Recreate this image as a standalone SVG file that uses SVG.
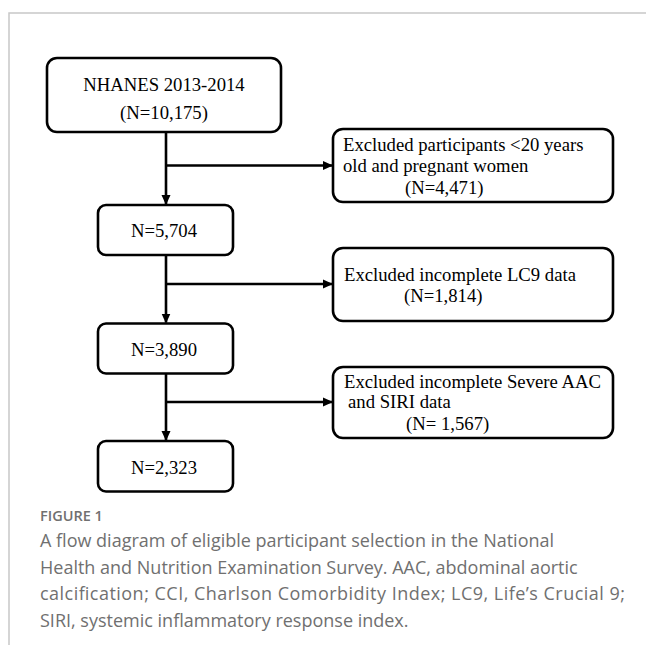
<svg xmlns="http://www.w3.org/2000/svg" width="646" height="645" viewBox="0 0 646 645">
<style>
.box{fill:#fff;stroke:#000;stroke-width:2.6}
.t{font-family:"Liberation Serif","Times New Roman",serif;font-size:18.7px;fill:#000}
.c{fill:none;stroke:#000;stroke-width:2.6}
.frame{stroke:#c8c8c8;stroke-width:1.5;fill:none}
.cap{font-family:"Open Sans","Noto Sans",sans-serif;font-size:18px;fill:#707070}
.caph{font-family:"Open Sans","Noto Sans",sans-serif;font-size:14.5px;font-weight:600;fill:#707070}
</style>
<defs>
<marker id="ah" markerWidth="10" markerHeight="10" refX="9" refY="5" orient="auto" markerUnits="userSpaceOnUse">
<path d="M0,0.5 L10,5 L0,9.5 Z" fill="#000"/>
</marker>
</defs>
<rect width="646" height="645" fill="#fff"/>
<path class="frame" d="M9,645 V13 H646"/>
<g id="n1"><rect class="box" x="47" y="58" width="234" height="74" rx="10"/>
<text class="t" x="164" y="91" text-anchor="middle">NHANES 2013-2014</text>
<text class="t" x="164" y="119" text-anchor="middle">(N=10,175)</text></g>
<g id="e1"><rect class="box" x="333" y="129" width="280" height="73" rx="10"/>
<text class="t" x="343" y="150.5">Excluded participants &lt;20 years</text>
<text class="t" x="343" y="172">old and pregnant women</text>
<text class="t" x="405" y="194">(N=4,471)</text></g>
<g id="n2"><rect class="box" x="98" y="205" width="135" height="50" rx="8"/>
<text class="t" x="164" y="237" text-anchor="middle">N=5,704</text></g>
<g id="e2"><rect class="box" x="333" y="248" width="280" height="73" rx="10"/>
<text class="t" x="344" y="281">Excluded incomplete LC9 data</text>
<text class="t" x="404" y="301.5">(N=1,814)</text></g>
<g id="n3"><rect class="box" x="98" y="323.5" width="135" height="50" rx="8"/>
<text class="t" x="164" y="355.5" text-anchor="middle">N=3,890</text></g>
<g id="e3"><rect class="box" x="333" y="367" width="280" height="71" rx="10"/>
<text class="t" x="344" y="387.5">Excluded incomplete Severe AAC</text>
<text class="t" x="348" y="408">and SIRI data</text>
<text class="t" x="406" y="429.5">(N= 1,567)</text></g>
<g id="n4"><rect class="box" x="98" y="441" width="135" height="50.5" rx="8"/>
<text class="t" x="164" y="474" text-anchor="middle">N=2,323</text></g>
<g id="connectors">
<line class="c" x1="166" y1="132" x2="166" y2="204" marker-end="url(#ah)"/>
<line class="c" x1="166" y1="165.5" x2="332" y2="165.5" marker-end="url(#ah)"/>
<line class="c" x1="166" y1="255" x2="166" y2="322.5" marker-end="url(#ah)"/>
<line class="c" x1="166" y1="284" x2="332" y2="284" marker-end="url(#ah)"/>
<line class="c" x1="166" y1="373.5" x2="166" y2="440" marker-end="url(#ah)"/>
<line class="c" x1="166" y1="402" x2="332" y2="402" marker-end="url(#ah)"/>
</g>
<text class="caph" x="40" y="521">FIGURE 1</text>
<text class="cap" x="40" y="547">A flow diagram of eligible participant selection in the National</text>
<text class="cap" x="40" y="573.5">Health and Nutrition Examination Survey. AAC, abdominal aortic</text>
<text class="cap" x="40" y="600" textLength="585" lengthAdjust="spacing">calcification; CCI, Charlson Comorbidity Index; LC9, Life’s Crucial 9;</text>
<text class="cap" x="40" y="626.5">SIRI, systemic inflammatory response index.</text>
</svg>
